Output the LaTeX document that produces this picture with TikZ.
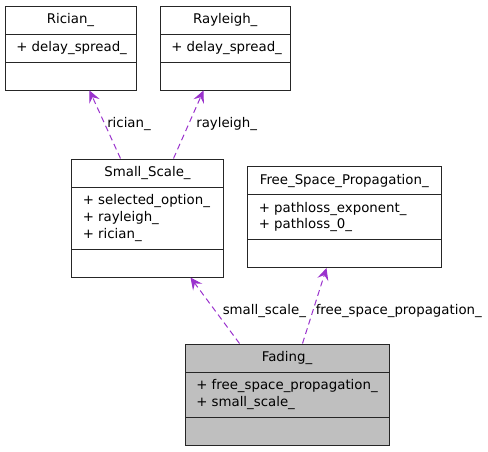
\documentclass[tikz,border=0pt]{standalone}
\usepackage{fontspec}
\setmainfont{DejaVu Sans}
\usepackage{tikz}
\usetikzlibrary{calc}
\usetikzlibrary{fit}
\usetikzlibrary{arrows.meta}
\definecolor{edgepurple}{HTML}{9A32CD}
\definecolor{boxgray}{HTML}{BFBFBF}
\tikzset{
  classframe/.style={draw=black!85, line width=0.75pt, inner sep=0pt},
  relation/.style={draw=edgepurple, line width=0.75pt, dash pattern=on 4.5pt off 3pt, -{Stealth[length=9pt,width=8.5pt,inset=3.5pt,line width=0.75pt]}},
  rellabel/.style={anchor=base west, inner sep=0pt},
}
% name, x1, y1, x2, y2, fill, title, attributes
\newcommand{\classbox}[8]{ \node[classframe, fill=#6, fit={(#2,#3) (#4,#5)}] (#1) {}; \draw[classframe] (#2,#3+28) -- (#4,#3+28); \draw[classframe] (#2,#5-28) -- (#4,#5-28); \node[inner sep=0pt] (#1 title) at (#2*0.5+#4*0.5,#3+14) {#7}; \node[inner sep=0pt, anchor=west, align=left] (#1 attrs) at (#2+11,#3*0.5+#5*0.5) {#8};}

\begin{document}
\begin{tikzpicture}[x=0.75pt, y=-0.75pt, every node/.style={font=\fontsize{10pt}{12.5pt}\selectfont}]
        \useasboundingbox (0,0) rectangle (488,451);

        % top row
        \classbox{rician}{5}{6.5}{136}{90}{white}{Rician\_}{+ delay\_spread\_}
        \classbox{rayleigh}{160}{6.5}{290.5}{90}{white}{Rayleigh\_}{+ delay\_spread\_}

        % middle row
        \classbox{smallscale}{71.5}{159}{223.5}{277}{white}{Small\_Scale\_}{+ selected\_option\_\\+ rayleigh\_\\+ rician\_}
        \classbox{freespace}{247.5}{166.5}{441}{267.5}{white}{Free\_Space\_Propagation\_}{+ pathloss\_exponent\_\\+ pathloss\_0\_}

        % bottom
        \classbox{fading}{185}{344}{389}{445}{boxgray}{Fading\_}{+ free\_space\_propagation\_\\+ small\_scale\_}

        % relations
        \draw[relation] ($(smallscale.north west)+(49.5,0)$) -- ($(rician.south west)+(85,0)$);
        \draw[relation] ($(smallscale.north west)+(102.5,0)$) -- ($(rayleigh.south west)+(44,0)$);
        \draw[relation] ($(fading.north west)+(55,0)$) -- ($(smallscale.south west)+(119.5,0)$);
        \draw[relation] ($(fading.north west)+(118,0)$) -- ($(freespace.south west)+(79.5,0)$);

        \node[rellabel] (lrician) at (107,127) {rician\_};
        \node[rellabel] (lrayleigh) at (196,127) {rayleigh\_};
        \node[rellabel] (lsmallscale) at (222.5,314) {small\_scale\_};
        \node[rellabel] (lfreespace) at (315.5,314) {free\_space\_propagation\_};
\end{tikzpicture}
\end{document}
